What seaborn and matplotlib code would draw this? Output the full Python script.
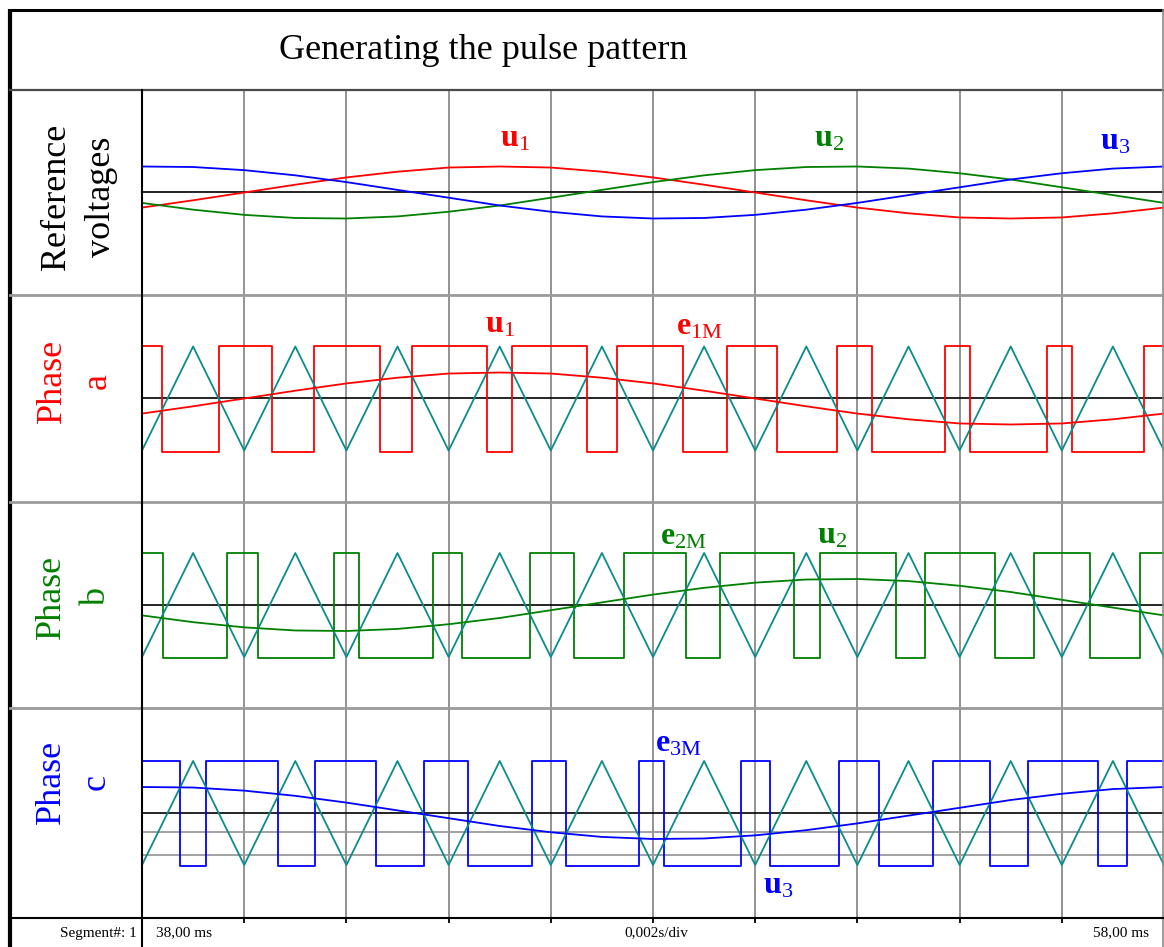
import matplotlib
matplotlib.use('Agg')
import matplotlib.pyplot as plt
import seaborn as sns
import numpy as np

# ---- data ----
# time axis in ms, one sample per ms (38 ms .. 58 ms, 2 ms/div)
t_ms = [38, 39, 40, 41, 42, 43, 44, 45, 46, 47, 48, 49, 50, 51, 52, 53, 54, 55, 56, 57, 58]

# reference voltages (carrier amplitude = 1)
u1 = [-0.29, -0.15, 0.00, 0.15, 0.29, 0.40, 0.48, 0.50, 0.48, 0.40, 0.29,
      0.15, 0.00, -0.15, -0.29, -0.40, -0.48, -0.50, -0.48, -0.40, -0.29]
u2 = [-0.20, -0.33, -0.43, -0.49, -0.50, -0.46, -0.37, -0.25, -0.10, 0.05, 0.20,
      0.33, 0.43, 0.49, 0.50, 0.46, 0.37, 0.25, 0.10, -0.05, -0.20]
u3 = [0.50, 0.49, 0.43, 0.33, 0.20, 0.05, -0.10, -0.25, -0.37, -0.46, -0.50,
      -0.49, -0.43, -0.33, -0.20, -0.05, 0.10, 0.25, 0.37, 0.46, 0.50]

# triangular carrier (500 Hz)
carrier = [-1, 1, -1, 1, -1, 1, -1, 1, -1, 1, -1, 1, -1, 1, -1, 1, -1, 1, -1, 1, -1]

# switching instants of the pulse patterns (ms); every pattern starts high
e1M_edges = [38.00, 38.39, 39.51, 40.54, 41.37, 42.66, 43.28, 44.75, 45.24, 46.71, 47.30,
             48.59, 49.45, 50.43, 51.60, 52.29, 53.71, 54.20, 55.71, 56.20, 57.61, 58.00]
e2M_edges = [38.00, 38.41, 39.66, 40.27, 41.76, 42.25, 43.69, 44.26, 45.59, 46.45, 47.43,
             48.65, 49.31, 50.76, 51.27, 52.76, 53.32, 54.69, 55.46, 56.55, 57.53, 58.00]
e3M_edges = [38.00, 38.74, 39.25, 40.66, 41.39, 42.58, 43.52, 44.38, 45.63, 46.30, 47.73,
             48.22, 49.72, 50.29, 51.64, 52.42, 53.48, 54.59, 55.34, 56.71, 57.28, 58.00]
pulse_high, pulse_low = 1.0, -1.02

grid_ms = [40, 42, 44, 46, 48, 50, 52, 54, 56]

RED, GREEN, BLUE, TEAL = '#ff0000', '#008000', '#0000ff', '#0a8c8c'
GRID = '#8a8a8a'
SERIF = 'Liberation Serif'

plt.rcParams['font.family'] = [SERIF, 'DejaVu Serif']
plt.rcParams['mathtext.fontset'] = 'custom'
plt.rcParams['mathtext.rm'] = SERIF
plt.rcParams['mathtext.it'] = SERIF + ':italic'
plt.rcParams['mathtext.bf'] = SERIF + ':bold'

W, H = 1164, 947
fig = plt.figure(figsize=(W / 100, H / 100), dpi=100)


def px_axes(x0, y0, x1, y1, **kw):
    return fig.add_axes([x0 / W, 1 - y1 / H, (x1 - x0) / W, (y1 - y0) / H], **kw)


def pulse_line(ax, edges, color):
    levels = [pulse_high if i % 2 == 0 else pulse_low for i in range(len(edges))]
    levels[-1] = levels[-2]
    sns.lineplot(x=edges, y=levels, drawstyle='steps-post', color=color, lw=1.3, ax=ax)


def setup_panel(top, bottom):
    ax = px_axes(142, top, 1164, bottom)
    ax.patch.set_alpha(0)
    half = (bottom - top) / 2 / 52.0
    ax.set_xlim(38, 58)
    ax.set_ylim(-half, half)
    ax.axis('off')
    for g in grid_ms:
        ax.axvline(g, color=GRID, lw=1.3, zorder=0)
    ax.axhline(0, color='black', lw=1.2, zorder=1)
    return ax


def sym(base, sub):
    return r'$\mathbf{%s}_{\mathrm{%s}}$' % (base, sub)


panels = [(90, 295), (295, 502), (502, 708), (708, 918)]
ax1, ax2, ax3, ax4 = [setup_panel(t, b) for t, b in panels]

# panel 1: reference voltages
sns.lineplot(x=t_ms, y=u1, color=RED, lw=1.3, ax=ax1)
sns.lineplot(x=t_ms, y=u2, color=GREEN, lw=1.3, ax=ax1)
sns.lineplot(x=t_ms, y=u3, color=BLUE, lw=1.3, ax=ax1)
ax1.text(45.3, 1.02, sym('u', '1'), color=RED, fontsize=23, ha='center', va='center')
ax1.text(51.45, 1.02, sym('u', '2'), color=GREEN, fontsize=23, ha='center', va='center')
ax1.text(57.05, 0.98, sym('u', '3'), color=BLUE, fontsize=23, ha='center', va='center')

# phase panels
for ax, u, edges, col in [(ax2, u1, e1M_edges, RED), (ax3, u2, e2M_edges, GREEN),
                          (ax4, u3, e3M_edges, BLUE)]:
    pulse_line(ax, edges, col)
    sns.lineplot(x=t_ms, y=carrier, color=TEAL, lw=1.3, ax=ax)
    sns.lineplot(x=t_ms, y=u, color=col, lw=1.3, ax=ax)

ax4.axhline(-0.37, color='#9a9a9a', lw=1.3, zorder=0)
ax4.axhline(-0.81, color='#9a9a9a', lw=1.3, zorder=0)

ax2.text(45.0, 1.42, sym('u', '1'), color=RED, fontsize=23, ha='center', va='center')
ax2.text(48.9, 1.38, sym('e', '1M'), color=RED, fontsize=23, ha='center', va='center')
ax3.text(48.6, 1.30, sym('e', '2M'), color=GREEN, fontsize=23, ha='center', va='center')
ax3.text(51.5, 1.33, sym('u', '2'), color=GREEN, fontsize=23, ha='center', va='center')
ax4.text(48.5, 1.33, sym('e', '3M'), color=BLUE, fontsize=23, ha='center', va='center')
ax4.text(50.45, -1.40, sym('u', '3'), color=BLUE, fontsize=23, ha='center', va='center')

# status bar ticks
axs = px_axes(142, 918, 1164, 947)
axs.patch.set_alpha(0)
axs.set_xlim(38, 58)
axs.set_ylim(0, 1)
axs.axis('off')
axs.vlines(grid_ms, 0.82, 1.0, color='black', lw=1.3)

# frame, separators and texts (pixel coordinates)
ov = fig.add_axes([0, 0, 1, 1], zorder=10)
ov.patch.set_alpha(0)
ov.set_xlim(0, W)
ov.set_ylim(H, 0)
ov.axis('off')
ov.plot([10, 10], [9, H], color='black', lw=3.0, solid_capstyle='butt')
ov.plot([9, W], [10, 10], color='black', lw=2.2, solid_capstyle='butt')
ov.plot([10, W], [90, 90], color='#4a4a4a', lw=1.6)
ov.plot([1163, 1163], [10, H], color='#8a8a8a', lw=1.2)
for y in [295, 502, 708]:
    ov.plot([10, W], [y, y], color='#9a9a9a', lw=2.0)
ov.plot([10, W], [918, 918], color='black', lw=1.5)
ov.plot([142, 142], [90, H], color='black', lw=1.5)

ov.text(483, 50, 'Generating the pulse pattern', ha='center', va='center', fontsize=26)
ov.text(79, 197, 'Reference\nvoltages', rotation=90, ha='center', va='center',
        fontsize=26, linespacing=1.45, color='black')
ov.text(75, 381, 'Phase\na', rotation=90, ha='center', va='center', fontsize=26,
        linespacing=1.45, color=RED)
ov.text(74, 597, 'Phase\nb', rotation=90, ha='center', va='center', fontsize=26,
        linespacing=1.45, color=GREEN)
ov.text(74, 782, 'Phase\nc', rotation=90, ha='center', va='center', fontsize=26,
        linespacing=1.45, color=BLUE)

ov.text(137, 933, 'Segment#: 1', ha='right', va='center', fontsize=11)
ov.text(156, 933, '38,00 ms', ha='left', va='center', fontsize=11)
ov.text(656, 933, '0,002s/div', ha='center', va='center', fontsize=11)
ov.text(1093, 933, '58,00 ms', ha='left', va='center', fontsize=11)

fig.savefig('out.png', dpi=100, facecolor='white')
